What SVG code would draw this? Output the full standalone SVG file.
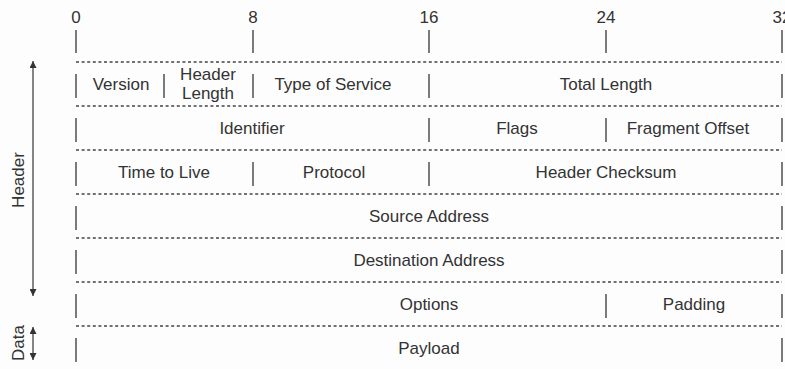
<svg xmlns="http://www.w3.org/2000/svg" width="785" height="369" viewBox="0 0 785 369">
<style>
text{font-family:"Liberation Sans",Arial,sans-serif;font-size:17px;fill:#333;text-anchor:middle}
.d{stroke:#444;stroke-width:1.6;stroke-dasharray:3 2.6;fill:none}
.b{stroke:#444;stroke-width:1.4;fill:none}
.a{stroke:#444;stroke-width:1.3;fill:none}
</style>
<defs>
<marker id="ah" viewBox="0 0 10 10" refX="10" refY="5" markerWidth="7" markerHeight="7" markerUnits="userSpaceOnUse" orient="auto-start-reverse"><path d="M0,0 L10,5 L0,10 z" fill="#333"/></marker>
</defs>
<rect width="785" height="369" fill="#fdfdfd"/>
<g id="scale">
<text x="76" y="23">0</text><text x="253" y="23">8</text><text x="429" y="23">16</text><text x="606" y="23">24</text><text x="782" y="23">32</text>
<path class="b" d="M76,30V53M253,30V53M429,30V53M606,30V53M782,30V53"/>
</g>
<g id="connectors">
<path class="d" d="M76,62H782M76,106H782M76,150H782M76,194H782M76,238H782M76,282H782M76,326H782"/>
<line class="a" x1="33" y1="296" x2="33" y2="61" marker-start="url(#ah)" marker-end="url(#ah)"/>
<line class="a" x1="33" y1="360" x2="33" y2="327" marker-start="url(#ah)" marker-end="url(#ah)"/>
</g>
<g id="header-label"><text transform="translate(24,180) rotate(-90)">Header</text></g>
<g id="data-label"><text transform="translate(24,343) rotate(-90)">Data</text></g>
<g id="row1">
<path class="b" d="M76,74V98M164,74V98M253,74V98M429,74V98M782,74V98"/>
<text x="121" y="90">Version</text>
<text x="208" y="80">Header</text><text x="208" y="99">Length</text>
<text x="333" y="90">Type of Service</text>
<text x="606" y="90">Total Length</text>
</g>
<g id="row2">
<path class="b" d="M76,118V142M429,118V142M606,118V142M782,118V142"/>
<text x="252" y="134">Identifier</text>
<text x="517" y="134">Flags</text>
<text x="688" y="134">Fragment Offset</text>
</g>
<g id="row3">
<path class="b" d="M76,162V186M253,162V186M429,162V186M782,162V186"/>
<text x="164" y="178">Time to Live</text>
<text x="334" y="178">Protocol</text>
<text x="606" y="178">Header Checksum</text>
</g>
<g id="row4">
<path class="b" d="M76,206V230M782,206V230"/>
<text x="429" y="222">Source Address</text>
</g>
<g id="row5">
<path class="b" d="M76,250V274M782,250V274"/>
<text x="429" y="266">Destination Address</text>
</g>
<g id="row6">
<path class="b" d="M76,294V318M606,294V318M782,294V318"/>
<text x="429" y="310">Options</text>
<text x="694" y="310">Padding</text>
</g>
<g id="row7">
<path class="b" d="M76,338V362M782,338V362"/>
<text x="429" y="354">Payload</text>
</g>
</svg>
